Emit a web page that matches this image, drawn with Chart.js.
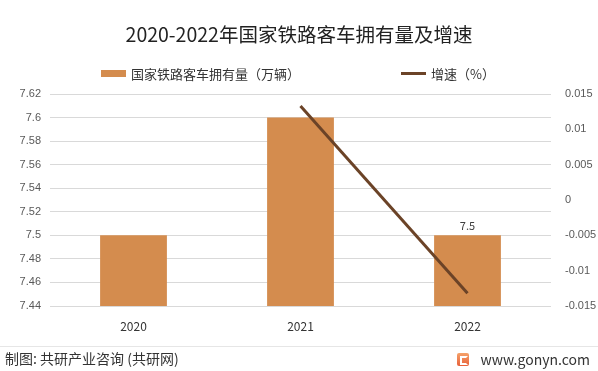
<!DOCTYPE html>
<html>
<head>
<meta charset="utf-8">
<script src="https://cdn.jsdelivr.net/npm/chart.js@4"></script>
<style>
  body { margin: 0; background: #fff; font-family: "Noto Sans CJK SC", "Noto Sans", sans-serif; }
  #wrap { position: relative; width: 598px; height: 371px; overflow: hidden; }
  #chart { position: absolute; left: 0; top: 0; }
  .title { position: absolute; left: 0; width: 598px; top: 19px; text-align: center; font-size: 19.5px; color: #222; }
  .legend { position: absolute; top: 64px; font-size: 13px; color: #333; display: flex; align-items: center; }
  .legend i { display: inline-block; width: 25px; margin-right: 5px; }
  .sep { position: absolute; left: 0; width: 598px; top: 346px; height: 1px; background: #e6e6e6; }
  .source { position: absolute; left: 5px; top: 348px; font-size: 14px; color: #333; }
  .site { position: absolute; right: 8px; top: 349px; font-size: 14px; color: #333; display: flex; align-items: center; }
  .logo { width: 12px; height: 13px; margin-right: 12px; background: linear-gradient(#f5a26a, #e8613a); border-radius: 2px; position: relative; }
  .logo:after { content: ""; position: absolute; left: 3px; top: 3px; width: 4px; height: 5px; border: 2px solid #fff; border-right-color: transparent; }
</style>
</head>
<body>
<div id="wrap">
  <canvas id="chart" width="598" height="371"></canvas>
  <div class="title">2020-2022年国家铁路客车拥有量及增速</div>
  <div class="legend" style="left:101px"><i style="height:7px;background:#d48c4e"></i>国家铁路客车拥有量（万辆）</div>
  <div class="legend" style="left:401px"><i style="height:3px;background:#6b4327"></i>增速（%）</div>
  <div class="sep"></div>
  <div class="source">制图: 共研产业咨询 (共研网)</div>
  <div class="site"><span class="logo"></span>www.gonyn.com</div>
</div>
<script>
const years = ['2020', '2021', '2022'];
const fleet = [7.5, 7.6, 7.5];
const growth = [null, 0.0133, -0.0132];
const labelled = [false, false, true];

const barLabel = {
    id: 'barLabel',
    afterDatasetsDraw(chart) {
        const ctx = chart.ctx;
        const meta = chart.getDatasetMeta(1);
        ctx.save();
        ctx.font = '11px "Noto Sans CJK SC", sans-serif';
        ctx.fillStyle = '#404040';
        ctx.textAlign = 'center';
        ctx.textBaseline = 'bottom';
        meta.data.forEach((bar, i) => {
            if (labelled[i]) ctx.fillText(String(fleet[i]), bar.x, bar.y - 4);
        });
        ctx.restore();
    }
};

// excel-style short numbers: 7.6 not 7.60, 0.01 not 0.010
const shortNum = (v) => String(Number(v.toFixed(4)));

const ctx = document.getElementById('chart').getContext('2d');
new Chart(ctx, {
    data: {
        labels: years,
        datasets: [
            {
                type: 'line',
                label: '增速（%）',
                data: growth,
                yAxisID: 'y1',
                borderColor: '#6b4327',
                borderWidth: 3,
                pointRadius: 0,
                spanGaps: false,
                order: 0
            },
            {
                type: 'bar',
                label: '国家铁路客车拥有量（万辆）',
                data: fleet,
                yAxisID: 'y',
                backgroundColor: '#d48c4e',
                categoryPercentage: 0.4,
                barPercentage: 1,
                order: 1
            }
        ]
    },
    options: {
        responsive: false,
        animation: false,
        layout: { padding: { top: 94, bottom: 30, left: 0, right: 0 } },
        plugins: { legend: { display: false }, tooltip: { enabled: false } },
        scales: {
            x: {
                grid: { display: false, drawTicks: false },
                border: { display: false },
                ticks: { padding: 13, color: '#333', font: { size: 12, family: '"Noto Sans CJK SC", sans-serif' } },
                afterFit(s) { s.height = 35; }
            },
            y: {
                position: 'left',
                min: 7.44,
                max: 7.62,
                ticks: { stepSize: 0.02, color: '#595959', padding: 9, font: { size: 11 }, callback: shortNum },
                grid: { color: '#d9d9d9', drawTicks: false },
                border: { display: false },
                afterFit(s) { s.width = 50; }
            },
            y1: {
                position: 'right',
                min: -0.015,
                max: 0.015,
                ticks: { stepSize: 0.005, color: '#595959', padding: 14, font: { size: 11 }, callback: shortNum },
                grid: { display: false, drawTicks: false },
                border: { display: false },
                afterFit(s) { s.width = 47; }
            }
        }
    },
    plugins: [barLabel]
});
</script>
</body>
</html>
